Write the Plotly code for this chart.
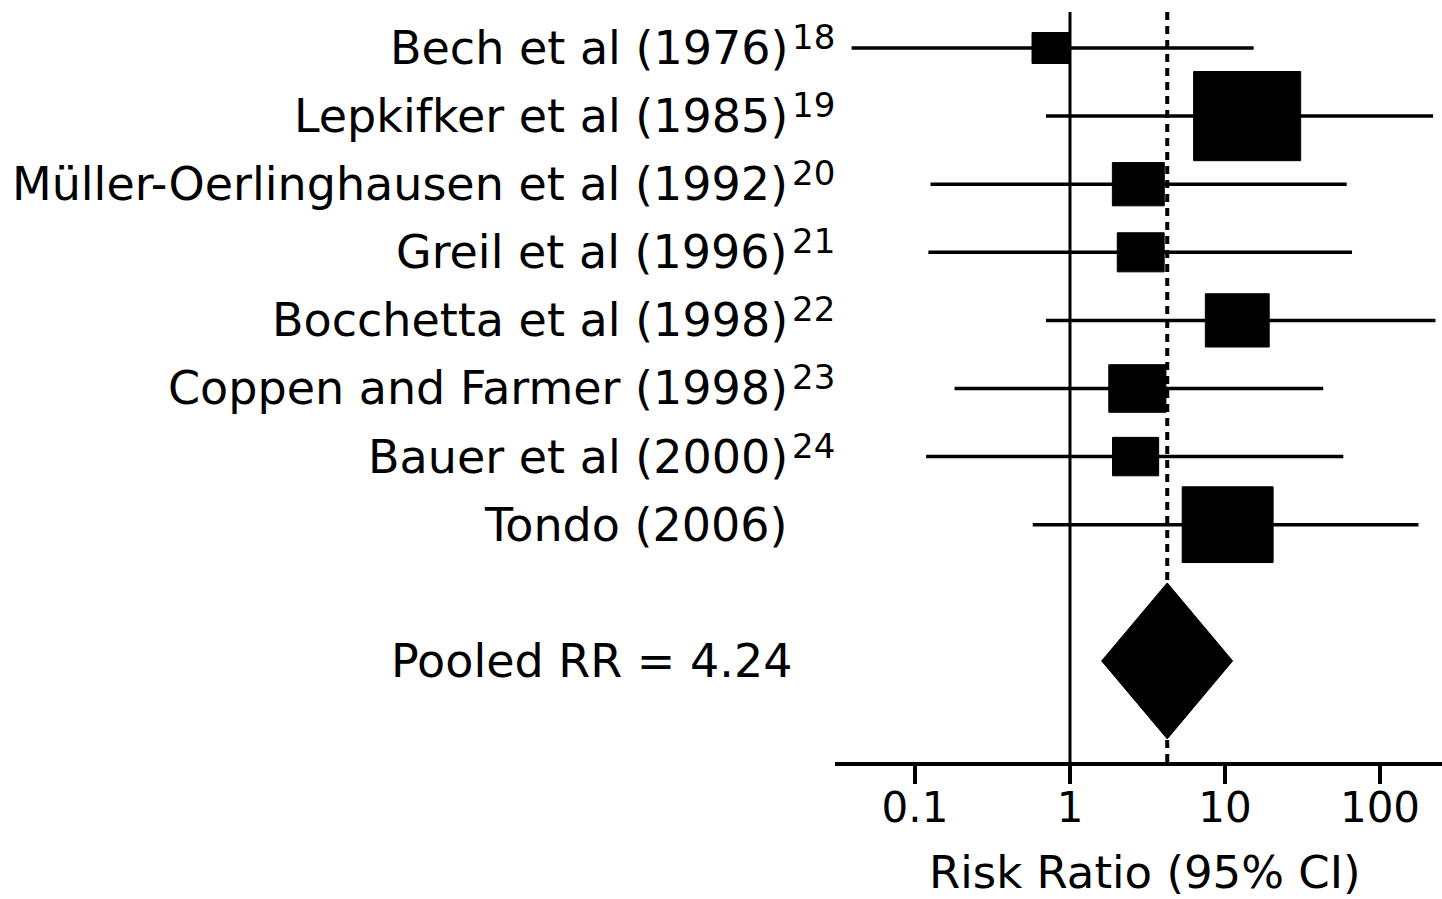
import plotly.graph_objects as go
import math

# ---------------- data ----------------
studies = ["Bech et al (1976)", "Lepkifker et al (1985)", "Müller-Oerlinghausen et al (1992)",
           "Greil et al (1996)", "Bocchetta et al (1998)", "Coppen and Farmer (1998)",
           "Bauer et al (2000)", "Tondo (2006)"]
refs = ["18", "19", "20", "21", "22", "23", "24", ""]
rr = [0.75, 13.9, 2.76, 2.86, 12.0, 2.72, 2.65, 10.4]
ci_low = [0.039, 0.70, 0.126, 0.122, 0.70, 0.18, 0.118, 0.575]
ci_high = [15.3, 220, 61, 66, 228, 43, 58, 177]
weights = [3.9, 32.3, 7.6, 6.2, 11.5, 9.2, 6.0, 23.3]   # relative study weight (%)
pooled_rr = 4.24
pooled_low = 1.6
pooled_high = 11.2
pooled_label = "Pooled RR = 4.24"
tick_vals = [0.1, 1, 10, 100]
tick_text = ["0.1", "1", "10", "100"]
x_title = "Risk Ratio (95% CI)"

# ---------------- geometry ----------------
W, H = 1442, 899
ML, MR, MT, MB = 835, 0, 0, 137
x_range = [-1.516, 2.4]
y_range = [10.485, -0.705]
pooled_y = 9
px_per_dec = (W - ML - MR) / (x_range[1] - x_range[0])
px_per_row = (H - MT - MB) / (y_range[0] - y_range[1])
FONT = "DejaVu Sans"

fig = go.Figure()

# CI lines
lx, ly = [], []
for i in range(len(studies)):
    lx += [ci_low[i], ci_high[i], None]
    ly += [i, i, None]
fig.add_trace(go.Scatter(x=lx, y=ly, mode="lines", line=dict(color="black", width=3.5),
                         hoverinfo="skip", showlegend=False))

# reference lines
fig.add_trace(go.Scatter(x=[1, 1], y=[-0.53, y_range[0]], mode="lines",
                         line=dict(color="black", width=3), hoverinfo="skip", showlegend=False))
fig.add_trace(go.Scatter(x=[pooled_rr, pooled_rr], y=[-0.53, y_range[0]], mode="lines",
                         line=dict(color="black", width=4, dash="8px,6px"),
                         hoverinfo="skip", showlegend=False))

# boxes
bx, by = [], []
for i in range(len(studies)):
    side = math.sqrt(weights[i] * 354.7)
    hw = side / 2 / px_per_dec
    hh = side / 1.2 / 2 / px_per_row
    c = math.log10(rr[i])
    xs = [10 ** (c - hw), 10 ** (c + hw), 10 ** (c + hw), 10 ** (c - hw), 10 ** (c - hw)]
    ys = [i - hh, i - hh, i + hh, i + hh, i - hh]
    bx += xs + [None]
    by += ys + [None]
fig.add_trace(go.Scatter(x=bx, y=by, mode="lines", fill="toself", fillcolor="black",
                         line=dict(color="black", width=1), hoverinfo="skip", showlegend=False))

# pooled diamond
dh = 78 / px_per_row
fig.add_trace(go.Scatter(x=[pooled_low, pooled_rr, pooled_high, pooled_rr, pooled_low],
                         y=[pooled_y, pooled_y - dh, pooled_y, pooled_y + dh, pooled_y],
                         mode="lines", fill="toself", fillcolor="black",
                         line=dict(color="black", width=1), hoverinfo="skip", showlegend=False))

# labels
label_x = (790 - ML) / (W - ML - MR)
for i, s in enumerate(studies):
    fig.add_annotation(x=label_x, xref="paper", y=i, yref="y", text=s, showarrow=False,
                       xanchor="right", yanchor="middle",
                       font=dict(family=FONT, size=46, color="black"))
    if refs[i]:
        fig.add_annotation(x=label_x, xref="paper", y=i, yref="y", text=refs[i], showarrow=False,
                           xanchor="left", yanchor="middle", yshift=11, xshift=0,
                           font=dict(family=FONT, size=34, color="black"))
fig.add_annotation(x=(794 - ML) / (W - ML - MR), xref="paper", y=pooled_y, yref="y",
                   text=pooled_label, showarrow=False, xanchor="right", yanchor="middle",
                   font=dict(family=FONT, size=46, color="black"))

# axis title
fig.add_annotation(x=(1145 - ML) / (W - ML - MR), xref="paper", y=-(872 - (H - MB)) / (H - MT - MB),
                   yref="paper", text=x_title, showarrow=False, xanchor="center", yanchor="middle",
                   font=dict(family=FONT, size=45, color="black"))

fig.update_xaxes(type="log", range=x_range, tickvals=tick_vals, ticktext=tick_text,
                 showline=True, linecolor="black", linewidth=3.5, ticks="outside", ticklen=18,
                 tickwidth=3.5, tickcolor="black", showgrid=False, zeroline=False,
                 ticklabelstandoff=-12,
                 tickfont=dict(family=FONT, size=42, color="black"))
fig.update_yaxes(range=y_range, visible=False, showgrid=False, zeroline=False)

fig.update_layout(width=W, height=H, margin=dict(l=ML, r=MR, t=MT, b=MB),
                  plot_bgcolor="white", paper_bgcolor="white", showlegend=False)

fig.write_html("out.html")
